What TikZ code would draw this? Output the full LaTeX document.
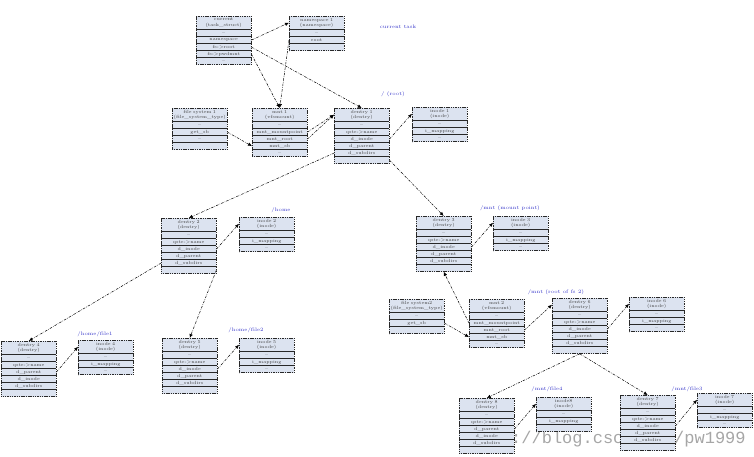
\documentclass[tikz,border=0pt]{standalone}
\usepackage{fontspec}
\newfontfamily\markfont{Liberation Mono}
\usetikzlibrary{arrows.meta}

\definecolor{tblfill}{RGB}{220,227,240}
\definecolor{tblline}{RGB}{40,40,40}
\definecolor{pathblue}{RGB}{50,50,200}

% one kernel object: title node plus a column of rows (#1-1, #1-2, ...)
\newcommand{\vfstable}[5]{%
  \node[tbltitle] (#1) at (#2) {#3};
  \foreach \rowtext [count=\k] in {#4} {
    \node[tblrow] (#1-\k) at ([yshift=-(\k-1)*7pt]#1.south) {\rowtext};
    \draw[tblrule] (#1-\k.north west) -- (#1-\k.north east);
  }
  \draw[tblframe] (#1.north west) rectangle (#1-#5.south east);
}

\begin{document}
\begin{tikzpicture}[x=1pt,y=-1pt,
    tbltitle/.style={anchor=north west,fill=tblfill,text width=55pt,align=center,
      minimum height=13pt,inner sep=0pt,text=black!75,
      font=\fontsize{4.5}{5.2}\selectfont},
    tblrow/.style={anchor=north,fill=tblfill,minimum width=55pt,minimum height=7pt,
      inner sep=0pt,text=black!75,font=\fontsize{4.5}{5}\selectfont},
    tblrule/.style={draw=tblline,line width=0.6pt},
    tblframe/.style={draw=tblline,line width=0.8pt,dash pattern=on 1.5pt off 0.8pt},
    ptr/.style={-{Latex[length=4pt,width=3.5pt]},line width=0.5pt,
      dash pattern=on 2.5pt off 1.2pt on 0.6pt off 1.2pt},
    pathlabel/.style={text=pathblue,font=\fontsize{5}{6}\selectfont,inner sep=0pt},
    marktext/.style={anchor=west,text=black!35,inner sep=0pt,
      font=\markfont\fontsize{17}{17}\selectfont}]
  \useasboundingbox (0,0) rectangle (754,456);

  % watermark, the parts left visible between the tables
  \node[marktext] (mark1) at (511,439) {://blog.csc};
  \node[marktext] (mark2) at (674,439) {/pw1999};

  \vfstable{cur}{196,16}{current\\(task\_struct)}{{\ldots},namespace,fs->root,fs->pwdmnt,{\ldots}}{5}
  \vfstable{ns1}{289,16}{namespace 1\\(namespace)}{{\ldots},root,{}}{3}
  \vfstable{fs1}{172,108}{file system 1\\(file\_system\_type)}{{\ldots},get\_sb,{\ldots},{}}{4}
  \vfstable{m1}{252,108}{mnt 1\\(vfsmount)}{{\ldots},mnt\_mountpoint,mnt\_root,mnt\_sb,{\ldots}}{5}
  \vfstable{d1}{334,108}{dentry 1\\(dentry)}{{\ldots},qstr->name,d\_inode,d\_parent,d\_subdirs,{}}{6}
  \vfstable{i1}{412,107}{inode 1\\(inode)}{{\ldots},i\_mapping,{\ldots}}{3}

  \vfstable{d2}{161,218}{dentry 2\\(dentry)}{{\ldots},qstr->name,d\_inode,d\_parent,d\_subdirs,{}}{6}
  \vfstable{i2}{239,217}{inode 2\\(inode)}{{\ldots},i\_mapping,{\ldots}}{3}
  \vfstable{d3}{416,216}{dentry 3\\(dentry)}{{\ldots},qstr->name,d\_inode,d\_parent,d\_subdirs,{}}{6}
  \vfstable{i3}{493,216}{inode 3\\(inode)}{{\ldots},i\_mapping,{\ldots}}{3}

  \vfstable{d4}{1,341}{dentry 4\\(dentry)}{{\ldots},qstr->name,d\_parent,d\_inode,d\_subdirs,{}}{6}
  \vfstable{i4}{78,340}{inode 4\\(inode)}{{\ldots},i\_mapping,{\ldots}}{3}
  \vfstable{d5}{162,338}{dentry 5\\(dentry)}{{\ldots},qstr->name,d\_inode,d\_parent,d\_subdirs,{}}{6}
  \vfstable{i5}{239,338}{inode 5\\(inode)}{{\ldots},i\_mapping,{\ldots}}{3}

  \vfstable{fs2}{389,299}{file system2\\(file\_system\_type)}{{\ldots},get\_sb,{}}{3}
  \vfstable{m2}{469,299}{mnt 2\\(vfsmount)}{{\ldots},mnt\_mountpoint,mnt\_root,mnt\_sb,{\ldots}}{5}
  \vfstable{d6}{552,298}{dentry 6\\(dentry)}{{\ldots},qstr->name,d\_inode,d\_parent,d\_subdirs,{}}{6}
  \vfstable{i6}{629,297}{inode 6\\(inode)}{{\ldots},i\_mapping,{\ldots}}{3}

  \vfstable{d8}{459,398}{dentry 8\\(dentry)}{{\ldots},qstr->name,d\_parent,d\_inode,d\_subdirs,{}}{6}
  \vfstable{i8}{536,397}{inode8\\(inode)}{{\ldots},i\_mapping,{}}{3}
  \vfstable{d7}{620,395}{dentry 7\\(dentry)}{{\ldots},qstr->name,d\_inode,d\_parent,d\_subdirs,{}}{6}
  \vfstable{i7}{697,393}{inode 7\\(inode)}{{\ldots},i\_mapping,{\ldots}}{3}

  % path names
  \node[pathlabel] (lcur) at (398,27) {current task};
  \node[pathlabel] (l1) at (393,94) {/ (root)};
  \node[pathlabel] (l2) at (281,210) {/home};
  \node[pathlabel] (l3) at (510,208) {/mnt (mount point)};
  \node[pathlabel] (l4) at (95,334) {/home/file1};
  \node[pathlabel] (l5) at (246,330) {/home/file2};
  \node[pathlabel] (l6) at (556,292) {/mnt (root of fs 2)};
  \node[pathlabel] (l8) at (547,389) {/mnt/file4};
  \node[pathlabel] (l7) at (687,389) {/mnt/file3};

  \draw (cur-2.east) edge[ptr] (ns1.west);
  \draw (cur-3.east) edge[ptr] (d1.north);
  \draw (cur-4.east) edge[ptr] (m1.north);
  \draw (ns1-2.west) edge[ptr] (m1.north);
  \draw (fs1-2.east) edge[ptr] (m1-4.west);
  \draw (m1-2.east) edge[ptr] (d1.west);
  \draw (m1-3.east) edge[ptr] (d1.west);
  \draw (d1-3.east) edge[ptr] (i1.west);
  \draw (d1-5.west) edge[ptr] (d2.north);
  \draw (d1-6.east) edge[ptr] (d3.north);

  \draw (d2-3.east) edge[ptr] (i2.west);
  \draw (d2-5.west) edge[ptr] (d4.north);
  \draw (d2-6.east) edge[ptr] (d5.north);
  \draw (d3-3.east) edge[ptr] (i3.west);
  \draw (d4-3.east) edge[ptr] (i4.west);
  \draw (d5-3.east) edge[ptr] (i5.west);

  \draw (m2-2.west) edge[ptr] (d3-6.south);
  \draw (fs2-2.east) edge[ptr] (m2-4.west);
  \draw (m2-3.east) edge[ptr] (d6.west);
  \draw (d6-3.east) edge[ptr] (i6.west);
  \draw (d6-6.south) edge[ptr] (d8.north);
  \draw (d6-6.south) edge[ptr] (d7.north);
  \draw (d8-3.east) edge[ptr] (i8.west);
  \draw (d7-3.east) edge[ptr] (i7.west);
\end{tikzpicture}
\end{document}
